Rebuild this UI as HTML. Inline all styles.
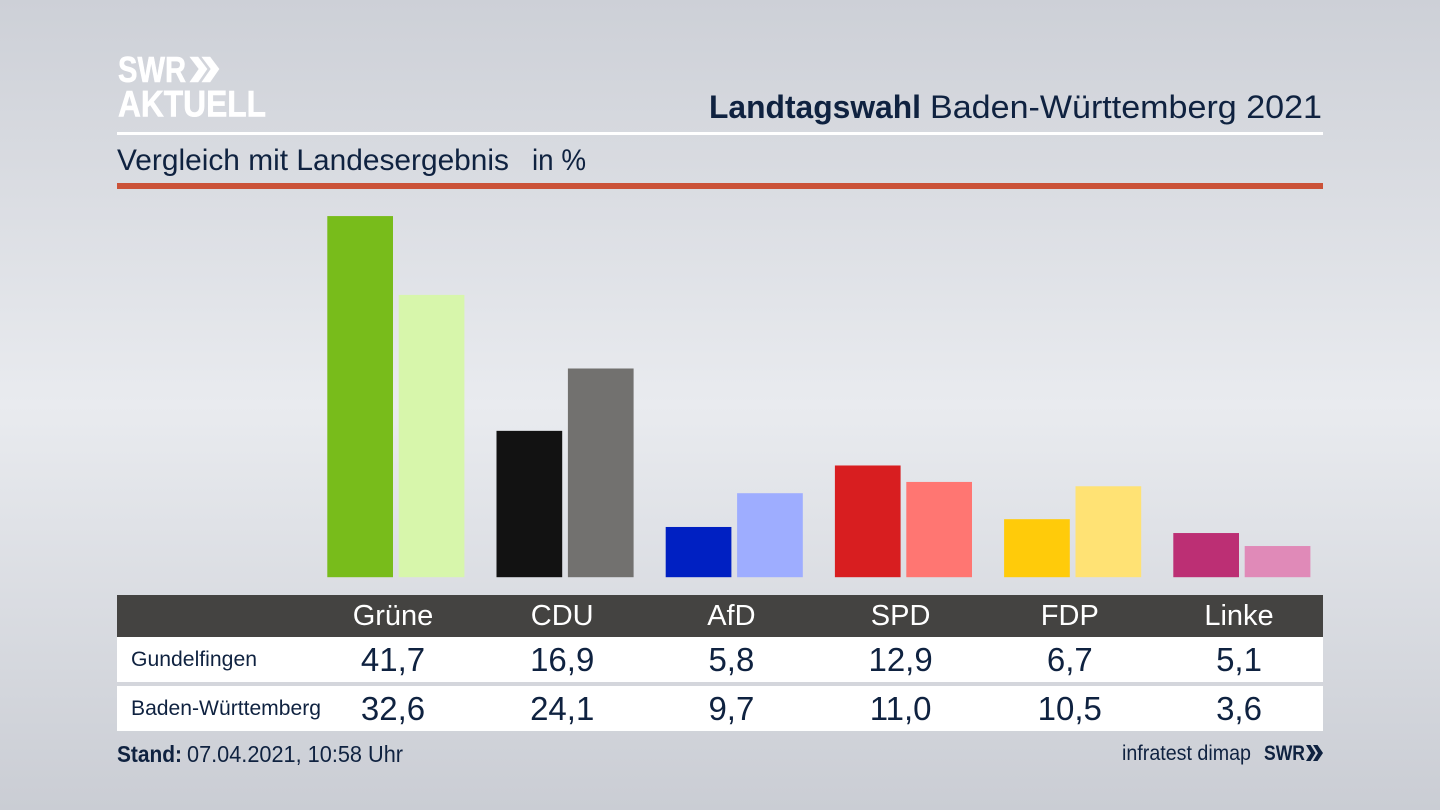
<!DOCTYPE html>
<html lang="de">
<head>
<meta charset="utf-8">
<title>Landtagswahl Baden-Württemberg 2021</title>
<style>
html,body{margin:0;padding:0;width:1440px;height:810px;overflow:hidden;background:#d5d8de}
svg{display:block;font-family:"Liberation Sans",sans-serif}
</style>
</head>
<body>
<svg id="chart" xmlns="http://www.w3.org/2000/svg" width="1440" height="810" viewBox="0 0 1440 810">
<defs>
<linearGradient id="bg" x1="0" y1="0" x2="0" y2="1">
<stop offset="0" stop-color="#cdd0d7"/>
<stop offset="0.5" stop-color="#e9ebef"/>
<stop offset="1" stop-color="#cacdd4"/>
</linearGradient>
</defs>
<rect width="1440" height="810" fill="url(#bg)"/>

<g fill="#fff" stroke="#fff" stroke-width="0.6">
<text x="118" y="82" font-size="36" font-weight="700" textLength="68" lengthAdjust="spacingAndGlyphs">SWR</text>
<path d="M190 57h8l9 12-9 13h-8l9-13zM202 57h8l9 12-9 13h-8l9-13z"/>
<text x="118" y="116.500" font-size="37" font-weight="700" textLength="148" lengthAdjust="spacingAndGlyphs">AKTUELL</text>
</g>

<text y="118" font-size="32" fill="#0f2240"><tspan x="709" font-weight="700" textLength="212" lengthAdjust="spacingAndGlyphs">Landtagswahl</tspan><tspan x="930" textLength="392" lengthAdjust="spacingAndGlyphs">Baden-Württemberg 2021</tspan></text>
<rect x="117" y="132" width="1206" height="3" fill="#fff"/>
<text x="117" y="170" font-size="30" fill="#0f2240" textLength="392" lengthAdjust="spacingAndGlyphs">Vergleich mit Landesergebnis</text>
<text x="532" y="170" font-size="30" fill="#0f2240" textLength="54" lengthAdjust="spacingAndGlyphs">in %</text>
<rect x="117" y="183" width="1206" height="6" fill="#cb5238"/>

<g id="bars"></g>

<rect x="117" y="595" width="1206" height="42" fill="#444341"/>
<rect x="117" y="637" width="1206" height="45" fill="#fff"/>
<rect x="117" y="686" width="1206" height="45" fill="#fff"/>
<text x="131" y="666" font-size="21" fill="#0f2240" textLength="126" lengthAdjust="spacingAndGlyphs">Gundelfingen</text>
<text x="131" y="715" font-size="21" fill="#0f2240" textLength="190" lengthAdjust="spacingAndGlyphs">Baden-Württemberg</text>
<g id="table"></g>

<text y="762" font-size="23" fill="#0f2240"><tspan x="117" font-weight="700" textLength="65" lengthAdjust="spacingAndGlyphs">Stand:</tspan><tspan x="187" textLength="216" lengthAdjust="spacingAndGlyphs">07.04.2021, 10:58 Uhr</tspan></text>
<text x="1122" y="760" font-size="21" fill="#0f2240" textLength="129" lengthAdjust="spacingAndGlyphs">infratest dimap</text>
<g fill="#0f2240">
<text x="1264" y="760" font-size="21" font-weight="700" textLength="41" lengthAdjust="spacingAndGlyphs">SWR</text>
<path d="M1306 745h4.500l5 8-5 8h-4.500l5-8zM1313 745h4.500l5.500 8-5.500 8h-4.500l5-8z"/>
</g>
</svg>
<script>
const parties = ['Grüne', 'CDU', 'AfD', 'SPD', 'FDP', 'Linke'];
const localLabels = ['41,7', '16,9', '5,8', '12,9', '6,7', '5,1'];
const stateLabels = ['32,6', '24,1', '9,7', '11,0', '10,5', '3,6'];
const localValues = [41.7, 16.9, 5.8, 12.9, 6.7, 5.1];
const stateValues = [32.6, 24.1, 9.7, 11.0, 10.5, 3.6];
const localColors = ['#78bc1b', '#121212', '#0020c2', '#d81e20', '#ffcb0a', '#bc2f74'];
const stateColors = ['#d7f6ab', '#72716f', '#9eadff', '#ff7672', '#ffe274', '#e08ab8'];

const NS = 'http://www.w3.org/2000/svg';
const baseY = 577.2;
const unitPx = 8.66;
const firstCenter = 393;
const groupStep = 169.2;
const barW = 65.7;
const barOffset = 5.7;

function centerX(i) { return firstCenter + i * groupStep; }
function barHeight(v) { return v * unitPx; }

const barsG = document.getElementById('bars');
const tableG = document.getElementById('table');

function makeBar(x, v, color) {
  const r = document.createElementNS(NS, 'rect');
  r.setAttribute('x', x);
  r.setAttribute('y', baseY - barHeight(v));
  r.setAttribute('width', barW);
  r.setAttribute('height', barHeight(v));
  r.setAttribute('fill', color);
  return r;
}
function makeText(x, y, size, color, str) {
  const t = document.createElementNS(NS, 'text');
  t.setAttribute('x', x);
  t.setAttribute('y', y);
  t.setAttribute('font-size', size);
  t.setAttribute('fill', color);
  t.setAttribute('text-anchor', 'middle');
  t.textContent = str;
  return t;
}

parties.forEach(function (party, i) {
  const c = centerX(i);
  const a = makeBar(c - barW, localValues[i], localColors[i]);
  
  
  barsG.appendChild(a);

  const b = makeBar(c + barOffset, stateValues[i], stateColors[i]);
  
  
  barsG.appendChild(b);

  const h = makeText(c, 625, 29, '#ffffff', party);
  
  
  tableG.appendChild(h);

  const v1 = makeText(c, 671, 33, '#0f2240', localLabels[i]);
  
  
  tableG.appendChild(v1);

  const v2 = makeText(c, 720, 33, '#0f2240', stateLabels[i]);
  
  
  tableG.appendChild(v2);
});
</script>
</body>
</html>
